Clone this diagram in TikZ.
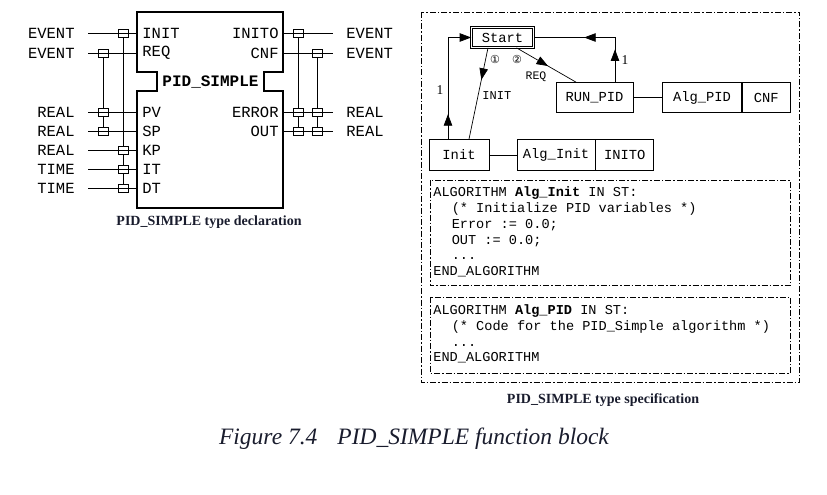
\documentclass[tikz,border=0pt]{standalone}
\usepackage{fontspec}
\setmainfont{Liberation Serif}
\setmonofont{Liberation Mono}
\newfontfamily\circfont{DejaVu Sans}
\usetikzlibrary{positioning,arrows.meta,decorations.markings}

\definecolor{capcol}{RGB}{25,28,45}

\tikzset{
  pinlbl/.style={font=\ttfamily\fontsize{15.5}{18}\selectfont, inner sep=0pt},
  assoc/.style={draw, line width=0.8pt, minimum width=10pt, minimum height=8pt, inner sep=0pt},
  ecc/.style={draw, line width=0.7pt, minimum height=30pt, inner sep=0pt,
    font=\ttfamily\fontsize{13.8}{16}\selectfont},
  codetxt/.style={align=left, inner sep=0pt, font=\ttfamily\fontsize{13.6}{15.8}\selectfont},
  dashdotbox/.style={draw, line width=0.6pt, dash pattern=on 6pt off 2pt on 1.5pt off 2pt},
  arrmark/.style={postaction={decorate, decoration={markings,
    mark=at position #1 with {\arrow{Triangle[length=11.5pt,width=8.5pt]}}}}},
}

\begin{document}
\begin{tikzpicture}[x=1pt,y=-1pt,line width=0.8pt]
  \useasboundingbox (0,0) rectangle (827,495);

  %funksjonsblokk
  \draw[line width=1.7pt] (137,12) -- (283,12) -- (283,72) -- (264,72) -- (264,91) -- (283,91)
    -- (283,208) -- (137,208) -- (137,91) -- (157,91) -- (157,72) -- (137,72) -- cycle;
  \node[font=\ttfamily\bfseries\fontsize{16}{18}\selectfont, inner sep=0pt] (fbname) at (210.5,82) {PID\_SIMPLE};

  %innganger
  \foreach \pin/\y/\typ in {INIT/33/EVENT, REQ/53/EVENT, PV/112/REAL, SP/131/REAL,
                            KP/150/REAL, IT/169/TIME, DT/188/TIME}{
    \node[pinlbl, anchor=west] (p-\pin) at (142,\y) {\pin};
    \node[pinlbl, anchor=east] (t-\pin) at (75,\y) {\typ};
    \coordinate (l-\pin) at (88,\y);
    \coordinate (r-\pin) at (137,\y);
    \draw (l-\pin) -- (r-\pin);
  }

  %utganger
  \foreach \pin/\y/\typ in {INITO/33/EVENT, CNF/53/EVENT, ERROR/112/REAL, OUT/131/REAL}{
    \node[pinlbl, anchor=east] (p-\pin) at (279,\y) {\pin};
    \node[pinlbl, anchor=west] (t-\pin) at (346,\y) {\typ};
    \coordinate (l-\pin) at (283,\y);
    \coordinate (r-\pin) at (333,\y);
    \draw (l-\pin) -- (r-\pin);
  }

  %WITH-koblinger
  \coordinate (w1) at (123,0);
  \coordinate (w2) at (103,0);
  \coordinate (w3) at (298,0);
  \coordinate (w4) at (317,0);
  \foreach \pin in {INIT,KP,IT,DT} \node[assoc] (a-\pin) at (w1 |- l-\pin) {};
  \draw (a-INIT) -- (a-KP) -- (a-IT) -- (a-DT);
  \foreach \pin in {REQ,PV,SP} \node[assoc] (b-\pin) at (w2 |- l-\pin) {};
  \draw (b-REQ) -- (b-PV) -- (b-SP);
  \foreach \pin in {INITO,ERROR,OUT} \node[assoc] (c-\pin) at (w3 |- l-\pin) {};
  \draw (c-INITO) -- (c-ERROR) -- (c-OUT);
  \foreach \pin in {CNF,ERROR,OUT} \node[assoc] (d-\pin) at (w4 |- l-\pin) {};
  \draw (d-CNF) -- (d-ERROR) -- (d-OUT);

  \node[font=\bfseries\fontsize{14}{16}\selectfont, text=capcol] (capdecl) at (209,222) {PID\_SIMPLE type declaration};

  %spesifikasjon, ramme
  \draw[dashdotbox] (421,12) rectangle (799.5,382.5);

  %ECC
  \node[ecc, double, double distance=1.5pt, minimum width=62pt, minimum height=20pt] (start) at (502.5,37.5) {Start};
  \node[ecc, minimum width=60pt, minimum height=31pt] (init) at (459,155) {Init};
  \node[ecc, minimum width=78pt, minimum height=31pt] (alginit) at (556,155) {Alg\_Init};
  \node[ecc, minimum width=58pt, minimum height=31pt, right=0pt of alginit] (inito) {INITO};
  \node[ecc, minimum width=77pt] (runpid) at (594.5,97.5) {RUN\_PID};
  \node[ecc, minimum width=79pt] (algpid) at (702,97.5) {Alg\_PID};
  \node[ecc, minimum width=48pt, right=0pt of algpid] (cnf) {CNF};

  \draw[line width=0.7pt] (init) -- (alginit);
  \draw[line width=0.7pt] (runpid) -- (algpid);

  %overganger
  \coordinate (w5) at (448,0);
  \draw[line width=0.7pt, -{Triangle[length=11.5pt,width=8.5pt]}, arrmark=0.2] (init.north -| w5) |- (start.west);
  \draw[line width=0.7pt, arrmark=0.35] ([xshift=-14.5pt]start.south) -- ([xshift=10pt]init.north);
  \draw[line width=0.7pt, arrmark=0.53] ([xshift=14pt]start.south) -- ([xshift=-18.5pt]runpid.north);
  \draw[line width=0.7pt, arrmark=0.26, arrmark=0.6] ([xshift=20.5pt]runpid.north) |- (start.east);

  \node[font=\fontsize{13.5}{15}\selectfont] (one-a) at (440,90) {1};
  \node[font=\fontsize{13.5}{15}\selectfont] (one-b) at (625,60) {1};
  \node[font=\circfont\fontsize{11}{12}\selectfont, inner sep=0pt] (nr1) at (495,59) {①};
  \node[font=\circfont\fontsize{11}{12}\selectfont, inner sep=0pt] (nr2) at (517,59) {②};
  \node[font=\ttfamily\fontsize{12}{14}\selectfont, inner sep=0pt, anchor=west] (ev-init) at (482,96) {INIT};
  \node[font=\ttfamily\fontsize{11.5}{14}\selectfont, inner sep=0pt] (ev-req) at (536,77) {REQ};

  %algoritmer
  \draw[dashdotbox] (430,180) rectangle (790,285.5);
  \node[codetxt, anchor=west] (code1) at (433,232) {ALGORITHM \textbf{Alg\_Init} IN ST:\\
    \hspace*{1.35em}(* Initialize PID variables *)\\
    \hspace*{1.35em}Error := 0.0;\\
    \hspace*{1.35em}OUT := 0.0;\\
    \hspace*{1.35em}...\\
    END\_ALGORITHM};

  \draw[dashdotbox] (430,297) rectangle (790,373.5);
  \node[codetxt, anchor=west] (code2) at (433,334) {ALGORITHM \textbf{Alg\_PID} IN ST:\\
    \hspace*{1.35em}(* Code for the PID\_Simple algorithm *)\\
    \hspace*{1.35em}...\\
    END\_ALGORITHM};

  \node[font=\bfseries\fontsize{14}{16}\selectfont, text=capcol] (capspec) at (603,400) {PID\_SIMPLE type specification};

  %figurtekst
  \node[font=\itshape\fontsize{23.5}{26}\selectfont, text=capcol] (figcap) at (414,439) {Figure 7.4\hspace{20pt}PID\_SIMPLE function block};
\end{tikzpicture}
\end{document}
